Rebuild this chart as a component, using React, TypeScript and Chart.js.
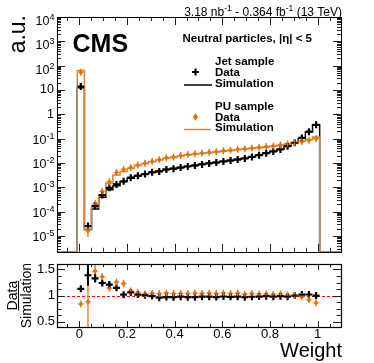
import React, { useEffect, useRef } from 'react';
import { Chart, registerables } from 'chart.js';
Chart.register(...registerables);

// ---- data ----
const binCenters = [
  0.0065, 0.0364, 0.0663, 0.0962, 0.1261, 0.156, 0.1859, 0.2158, 0.2457, 0.2756,
  0.3055, 0.3354, 0.3653, 0.3952, 0.4251, 0.455, 0.4849, 0.5148, 0.5447, 0.5746,
  0.6045, 0.6344, 0.6643, 0.6942, 0.7241, 0.754, 0.7839, 0.8138, 0.8437, 0.8736,
  0.9035, 0.9334, 0.9633, 0.9932,
];
const binHalfWidth = 0.01495;

const jetSim = [
  12.3, 1.85e-5, 1.3e-4, 3.9e-4, 7.9e-4, 1.15e-3, 1.74e-3, 2.34e-3, 2.95e-3, 3.47e-3,
  4.17e-3, 4.68e-3, 5.5e-3, 6.0e-3, 6.6e-3, 7.4e-3, 8.1e-3, 8.9e-3, 9.8e-3, 1.07e-2,
  1.17e-2, 1.29e-2, 1.41e-2, 1.58e-2, 1.82e-2, 2.14e-2, 2.57e-2, 3.02e-2, 3.63e-2, 5.0e-2,
  6.8e-2, 0.105, 0.19, 0.37,
];
const jetData = [
  13.9, 2.57e-5, 1.73e-4, 4.84e-4, 9.56e-4, 1.32e-3, 1.77e-3, 2.48e-3, 3.01e-3, 3.5e-3,
  4.13e-3, 4.49e-3, 5.34e-3, 5.82e-3, 6.47e-3, 7.18e-3, 7.86e-3, 8.72e-3, 9.6e-3, 1.04e-2,
  1.15e-2, 1.26e-2, 1.38e-2, 1.53e-2, 1.78e-2, 2.1e-2, 2.54e-2, 2.96e-2, 3.59e-2, 4.9e-2,
  6.8e-2, 0.107, 0.194, 0.37,
];
const puSim = [
  64, 1.86e-5, 1.5e-4, 5.0e-4, 1.48e-3, 3.24e-3, 4.47e-3, 6.0e-3, 7.8e-3, 9.5e-3,
  1.12e-2, 1.32e-2, 1.55e-2, 1.7e-2, 1.95e-2, 2.14e-2, 2.29e-2, 2.45e-2, 2.63e-2, 2.82e-2,
  3.02e-2, 3.24e-2, 3.47e-2, 3.72e-2, 3.98e-2, 4.27e-2, 4.57e-2, 4.9e-2, 5.37e-2, 6.03e-2,
  6.76e-2, 7.76e-2, 9.33e-2, 0.117,
];
const puData = [
  53.8, 1.64e-5, 2.2e-4, 6.8e-4, 1.69e-3, 4.08e-3, 5.5e-3, 6.54e-3, 8.27e-3, 9.79e-3,
  1.165e-2, 1.37e-2, 1.63e-2, 1.77e-2, 2.03e-2, 2.23e-2, 2.4e-2, 2.55e-2, 2.76e-2, 2.93e-2,
  3.17e-2, 3.37e-2, 3.64e-2, 3.83e-2, 4.14e-2, 4.4e-2, 4.71e-2, 5.0e-2, 5.53e-2, 6.09e-2,
  6.76e-2, 7.6e-2, 8.58e-2, 0.101,
];
// relative uncertainties of the data points (upper panel)
const jetDataRelErr = [
  0.02, 0.15, 0.08, 0.04, 0.03, 0.03, 0.02, 0.02, 0.02, 0.02,
  0.02, 0.02, 0.02, 0.02, 0.02, 0.02, 0.02, 0.02, 0.02, 0.02,
  0.02, 0.02, 0.02, 0.02, 0.02, 0.02, 0.02, 0.02, 0.02, 0.02,
  0.02, 0.02, 0.02, 0.02,
];
const puDataRelErr = [
  0.05, 0.45, 0.25, 0.15, 0.1, 0.08, 0.06, 0.06, 0.06, 0.06,
  0.06, 0.06, 0.06, 0.06, 0.06, 0.06, 0.06, 0.06, 0.06, 0.06,
  0.06, 0.06, 0.06, 0.06, 0.06, 0.06, 0.06, 0.06, 0.06, 0.06,
  0.06, 0.06, 0.06, 0.06,
];
// absolute uncertainties of the Data/Simulation ratio
const jetRatioErr = [
  0.02, 0.2, 0.08, 0.05, 0.04, 0.03, 0.02, 0.02, 0.02, 0.015,
  0.015, 0.015, 0.015, 0.015, 0.015, 0.015, 0.015, 0.015, 0.015, 0.015,
  0.015, 0.015, 0.015, 0.015, 0.015, 0.015, 0.015, 0.015, 0.015, 0.015,
  0.015, 0.015, 0.015, 0.015,
];
const puRatioErr = [
  0.03, 0.72, 0.12, 0.07, 0.05, 0.04, 0.03, 0.03, 0.02, 0.02,
  0.02, 0.02, 0.02, 0.02, 0.02, 0.02, 0.02, 0.02, 0.02, 0.02,
  0.02, 0.02, 0.02, 0.02, 0.02, 0.02, 0.02, 0.02, 0.02, 0.02,
  0.02, 0.02, 0.03, 0.03,
];

const xMajorTicks = [0, 0.2, 0.4, 0.6, 0.8, 1];
const xTickLabels = ['0', '0.2', '0.4', '0.6', '0.8', '1'];
const ratioTicks = [0.5, 1, 1.5];
const ratioTickLabels = ['0.5', '1', '1.5'];
const logDecades = [-5, -4, -3, -2, -1, 0, 1, 2, 3, 4];

// ---- style ----
const X_MIN = -0.0935;
const X_MAX = 1.0977;
const Y_MIN = Math.pow(10, -5.65);
const Y_MAX = 1e4;
const R_MIN = 0.4;
const R_MAX = 1.6;
const FONT = '"Liberation Sans", Arial, Helvetica, sans-serif';
const ORANGE_LINE = '#d4843a';
const ORANGE_MARK = '#e3740b';
const ORANGE_LIGHT = 'rgba(227,116,11,0.4)';

function stepPoints(vals: number[]) {
  const pts: { x: number; y: number }[] = [{ x: X_MIN, y: Y_MIN }];
  vals.forEach((v, i) => {
    const lo = binCenters[i] - binHalfWidth;
    const hi = binCenters[i] + binHalfWidth;
    if (i === 0) pts.push({ x: lo, y: Y_MIN });
    pts.push({ x: lo, y: v }, { x: hi, y: v });
  });
  const last = binCenters[binCenters.length - 1] + binHalfWidth;
  pts.push({ x: last, y: Y_MIN }, { x: X_MAX, y: Y_MIN });
  return pts;
}

function px(v: number) {
  return Math.round(v) + 0.5;
}

function drawXTicks(ctx: CanvasRenderingContext2D, chart: any, majLen: number, minLen: number) {
  const xs = chart.scales.x;
  const a = chart.chartArea;
  ctx.beginPath();
  for (let k = -1; k <= 21; k++) {
    const v = k * 0.05;
    const x = px(xs.getPixelForValue(v));
    if (x < a.left || x > a.right) continue;
    const len = k % 4 === 0 ? majLen : minLen;
    ctx.moveTo(x, a.bottom);
    ctx.lineTo(x, a.bottom - len);
    ctx.moveTo(x, a.top);
    ctx.lineTo(x, a.top + len);
  }
  ctx.stroke();
}

function drawYTick(ctx: CanvasRenderingContext2D, a: any, yPix: number, len: number) {
  const y = px(yPix);
  ctx.moveTo(a.left, y);
  ctx.lineTo(a.left + len, y);
  ctx.moveTo(a.right, y);
  ctx.lineTo(a.right - len, y);
}

const upperDecor = {
  id: 'upperDecor',
  afterDatasetsDraw(chart: any) {
    const ctx = chart.ctx as CanvasRenderingContext2D;
    const xs = chart.scales.x;
    const ys = chart.scales.y;
    const a = chart.chartArea;
    ctx.save();
    ctx.beginPath();
    ctx.rect(a.left, a.top, a.right - a.left, a.bottom - a.top);
    ctx.clip();
    puData.forEach((v, i) => {
      const cx = xs.getPixelForValue(binCenters[i]);
      const x1 = xs.getPixelForValue(binCenters[i] - binHalfWidth);
      const x2 = xs.getPixelForValue(binCenters[i] + binHalfWidth);
      const cy = ys.getPixelForValue(v);
      ctx.strokeStyle = ORANGE_LIGHT;
      ctx.lineWidth = 1;
      ctx.beginPath();
      ctx.moveTo(x1, cy);
      ctx.lineTo(x2, cy);
      ctx.stroke();
      let yt = ys.getPixelForValue(v * (1 + puDataRelErr[i]));
      let yb = ys.getPixelForValue(v * (1 - puDataRelErr[i]));
      yt = Math.min(yt, cy - 3.5);
      yb = Math.max(yb, cy + 3.5);
      ctx.strokeStyle = ORANGE_MARK;
      ctx.lineWidth = 1.3;
      ctx.beginPath();
      ctx.moveTo(cx, yt);
      ctx.lineTo(cx, yb);
      ctx.stroke();
    });
    jetData.forEach((v, i) => {
      const cx = xs.getPixelForValue(binCenters[i]);
      const yt = ys.getPixelForValue(v * (1 + jetDataRelErr[i]));
      const yb = ys.getPixelForValue(v * (1 - jetDataRelErr[i]));
      ctx.strokeStyle = '#000';
      ctx.lineWidth = 2;
      ctx.beginPath();
      ctx.moveTo(cx, yt);
      ctx.lineTo(cx, yb);
      ctx.stroke();
    });
    ctx.restore();
  },
  afterDraw(chart: any) {
    const ctx = chart.ctx as CanvasRenderingContext2D;
    const ys = chart.scales.y;
    const a = chart.chartArea;
    ctx.save();
    ctx.strokeStyle = '#222';
    ctx.lineWidth = 1;
    drawXTicks(ctx, chart, 8, 4);
    ctx.beginPath();
    for (let e = -6; e <= 4; e++) {
      for (let k = 1; k <= 9; k++) {
        const v = k * Math.pow(10, e);
        if (v < Y_MIN || v > Y_MAX * 1.0001) continue;
        drawYTick(ctx, a, ys.getPixelForValue(v), k === 1 ? 8 : 4);
      }
    }
    ctx.stroke();
    ctx.strokeStyle = '#000';
    ctx.lineWidth = 1;
    ctx.strokeRect(px(a.left), px(a.top), Math.round(a.right - a.left), Math.round(a.bottom - a.top));

    ctx.fillStyle = '#000';
    const rightEdge = 54.5;
    logDecades.forEach((e) => {
      const y = ys.getPixelForValue(Math.pow(10, e));
      if (e === 0 || e === 1) {
        ctx.font = `12.5px ${FONT}`;
        ctx.textAlign = 'right';
        ctx.textBaseline = 'middle';
        ctx.fillText(e === 0 ? '1' : '10', rightEdge - 0.5, y);
        return;
      }
      const exp = String(e);
      ctx.font = `9px ${FONT}`;
      const ew = ctx.measureText(exp).width;
      const off = e > 0 ? 4.5 : 1.5;
      const baseMid = y + off;
      ctx.font = `12.5px ${FONT}`;
      ctx.textAlign = 'right';
      ctx.textBaseline = 'middle';
      ctx.fillText('10', rightEdge - ew, baseMid);
      ctx.font = `9px ${FONT}`;
      ctx.textAlign = 'left';
      ctx.textBaseline = 'alphabetic';
      ctx.fillText(exp, rightEdge - ew, baseMid - 4.5 + 3);
    });

    ctx.save();
    ctx.translate(25, 15);
    ctx.rotate(-Math.PI / 2);
    ctx.font = `23px ${FONT}`;
    ctx.textAlign = 'right';
    ctx.textBaseline = 'alphabetic';
    ctx.fillText('a.u.', 0, 0);
    ctx.restore();

    ctx.font = `bold 25px ${FONT}`;
    ctx.textAlign = 'left';
    ctx.textBaseline = 'alphabetic';
    ctx.fillText('CMS', 72.5, 52);

    const parts: [string, boolean][] = [
      ['3.18 nb', false], ['-1', true], [' - 0.364 fb', false], ['-1', true], [' (13 TeV)', false],
    ];
    let total = 0;
    parts.forEach(([t, sup]) => {
      ctx.font = sup ? `8.5px ${FONT}` : `12px ${FONT}`;
      total += ctx.measureText(t).width;
    });
    let x = 342 - total;
    parts.forEach(([t, sup]) => {
      ctx.font = sup ? `8.5px ${FONT}` : `12px ${FONT}`;
      ctx.fillText(t, x, sup ? 11 : 16);
      x += ctx.measureText(t).width;
    });

    ctx.font = `bold 11.5px ${FONT}`;
    ctx.fillText('Neutral particles, |\u03B7| < 5', 182.5, 42);
    ctx.fillText('Jet sample', 215, 65);
    ctx.fillText('Data', 215, 76);
    ctx.fillText('Simulation', 215, 86.5);
    ctx.fillText('PU sample', 215, 109.5);
    ctx.fillText('Data', 215, 120.5);
    ctx.fillText('Simulation', 215, 131);

    ctx.strokeStyle = '#000';
    ctx.lineWidth = 2.2;
    ctx.beginPath();
    ctx.moveTo(192, 72);
    ctx.lineTo(199, 72);
    ctx.moveTo(195.5, 68.5);
    ctx.lineTo(195.5, 75.5);
    ctx.stroke();
    ctx.lineWidth = 1.5;
    ctx.beginPath();
    ctx.moveTo(184, 85);
    ctx.lineTo(212, 85);
    ctx.stroke();
    ctx.strokeStyle = ORANGE_LINE;
    ctx.beginPath();
    ctx.moveTo(184, 129.5);
    ctx.lineTo(211, 129.5);
    ctx.stroke();
    ctx.fillStyle = ORANGE_MARK;
    ctx.beginPath();
    ctx.moveTo(195.5, 113);
    ctx.lineTo(198, 117);
    ctx.lineTo(195.5, 121);
    ctx.lineTo(193, 117);
    ctx.closePath();
    ctx.fill();
    ctx.restore();
  },
};

const lowerDecor = {
  id: 'lowerDecor',
  beforeDatasetsDraw(chart: any) {
    const ctx = chart.ctx as CanvasRenderingContext2D;
    const ys = chart.scales.y;
    const a = chart.chartArea;
    ctx.save();
    ctx.strokeStyle = '#ff0000';
    ctx.lineWidth = 1;
    ctx.setLineDash([3, 2]);
    const y = px(ys.getPixelForValue(1));
    ctx.beginPath();
    ctx.moveTo(a.left, y);
    ctx.lineTo(a.right, y);
    ctx.stroke();
    ctx.restore();
  },
  afterDatasetsDraw(chart: any) {
    const ctx = chart.ctx as CanvasRenderingContext2D;
    const xs = chart.scales.x;
    const ys = chart.scales.y;
    const a = chart.chartArea;
    ctx.save();
    ctx.beginPath();
    ctx.rect(a.left, a.top, a.right - a.left, a.bottom - a.top);
    ctx.clip();
    puData.forEach((v, i) => {
      const r = v / puSim[i];
      const cx = xs.getPixelForValue(binCenters[i]);
      const x1 = xs.getPixelForValue(binCenters[i] - binHalfWidth);
      const x2 = xs.getPixelForValue(binCenters[i] + binHalfWidth);
      const cy = ys.getPixelForValue(r);
      ctx.strokeStyle = ORANGE_LIGHT;
      ctx.lineWidth = 1;
      ctx.beginPath();
      ctx.moveTo(x1, cy);
      ctx.lineTo(x2, cy);
      ctx.stroke();
      let yt = ys.getPixelForValue(r + puRatioErr[i]);
      let yb = ys.getPixelForValue(r - puRatioErr[i]);
      yt = Math.min(yt, cy - 3.5);
      yb = Math.max(yb, cy + 3.5);
      ctx.strokeStyle = ORANGE_MARK;
      ctx.lineWidth = 1.3;
      ctx.beginPath();
      ctx.moveTo(cx, yt);
      ctx.lineTo(cx, yb);
      ctx.stroke();
    });
    jetData.forEach((v, i) => {
      const r = v / jetSim[i];
      const cx = xs.getPixelForValue(binCenters[i]);
      const yt = ys.getPixelForValue(r + jetRatioErr[i]);
      const yb = ys.getPixelForValue(r - jetRatioErr[i]);
      ctx.strokeStyle = '#000';
      ctx.lineWidth = 2;
      ctx.beginPath();
      ctx.moveTo(cx, yt);
      ctx.lineTo(cx, yb);
      ctx.stroke();
    });
    ctx.restore();
  },
  afterDraw(chart: any) {
    const ctx = chart.ctx as CanvasRenderingContext2D;
    const xs = chart.scales.x;
    const ys = chart.scales.y;
    const a = chart.chartArea;
    ctx.save();
    ctx.strokeStyle = '#222';
    ctx.lineWidth = 1;
    drawXTicks(ctx, chart, 6, 3);
    ctx.beginPath();
    for (let k = 0; k <= 10; k++) {
      const v = 0.375 + k * 0.125;
      if (v < R_MIN || v > R_MAX) continue;
      const major = Math.abs(v * 2 - Math.round(v * 2)) < 1e-6;
      drawYTick(ctx, a, ys.getPixelForValue(v), major ? 8 : 4.5);
    }
    ctx.stroke();
    ctx.strokeStyle = '#000';
    ctx.lineWidth = 1.2;
    ctx.strokeRect(px(a.left), px(a.top), Math.round(a.right - a.left), Math.round(a.bottom - a.top));

    ctx.fillStyle = '#000';
    ctx.font = `13px ${FONT}`;
    ctx.textAlign = 'center';
    ctx.textBaseline = 'alphabetic';
    xMajorTicks.forEach((v, i) => {
      ctx.fillText(xTickLabels[i], xs.getPixelForValue(v), 80);
    });
    ctx.textAlign = 'right';
    ctx.textBaseline = 'middle';
    ratioTicks.forEach((v, i) => {
      ctx.fillText(ratioTickLabels[i], 55, ys.getPixelForValue(v));
    });
    ctx.font = `20px ${FONT}`;
    ctx.textAlign = 'right';
    ctx.textBaseline = 'alphabetic';
    ctx.fillText('Weight', 342, 99);
    const cy = ys.getPixelForValue(1);
    ctx.font = `14px ${FONT}`;
    const dw = ctx.measureText('Data').width;
    ctx.save();
    ctx.translate(16.5, cy);
    ctx.rotate(-Math.PI / 2);
    ctx.textAlign = 'center';
    ctx.fillText('Data', 0, 0);
    ctx.restore();
    ctx.save();
    ctx.translate(30.5, cy);
    ctx.rotate(-Math.PI / 2);
    ctx.textAlign = 'center';
    ctx.fillText('Simulation', 0, 0);
    ctx.restore();
    ctx.lineWidth = 1;
    ctx.beginPath();
    ctx.moveTo(18.5, cy - dw / 2);
    ctx.lineTo(18.5, cy + dw / 2);
    ctx.stroke();
    ctx.restore();
  },
};

export default function App() {
  const topRef = useRef<HTMLCanvasElement>(null);
  const botRef = useRef<HTMLCanvasElement>(null);

  useEffect(() => {
    const common = {
      responsive: false,
      animation: false as const,
      devicePixelRatio: 1,
      events: [] as any[],
    };
    const top = new Chart(topRef.current!, {
      type: 'line',
      data: {
        datasets: [
          {
            data: jetData.map((v, i) => ({ x: binCenters[i], y: v })),
            showLine: false,
            pointStyle: 'cross',
            pointRadius: 3.5,
            pointBorderWidth: 2.2,
            borderColor: '#000',
            backgroundColor: '#000',
            order: 0,
          },
          {
            data: puData.map((v, i) => ({ x: binCenters[i], y: v })),
            showLine: false,
            pointStyle: 'rectRot',
            pointRadius: 2.6,
            pointBorderWidth: 0,
            borderColor: ORANGE_MARK,
            backgroundColor: ORANGE_MARK,
            order: 1,
          },
          {
            data: stepPoints(puSim),
            borderColor: ORANGE_LINE,
            borderWidth: 1.5,
            pointRadius: 0,
            tension: 0,
            clip: 3,
            order: 2,
          },
          {
            data: stepPoints(jetSim),
            borderColor: '#000',
            borderWidth: 1.5,
            pointRadius: 0,
            tension: 0,
            clip: 3,
            order: 3,
          },
        ] as any,
      },
      options: {
        ...common,
        layout: { padding: { left: 57, right: 33, top: 17, bottom: 4 } },
        plugins: { legend: { display: false }, tooltip: { enabled: false } },
        scales: {
          x: { type: 'linear', min: X_MIN, max: X_MAX, display: false },
          y: { type: 'logarithmic', min: Y_MIN, max: Y_MAX, display: false },
        },
      } as any,
      plugins: [upperDecor],
    });

    const bottom = new Chart(botRef.current!, {
      type: 'line',
      data: {
        datasets: [
          {
            data: jetData.map((v, i) => ({ x: binCenters[i], y: v / jetSim[i] })),
            showLine: false,
            pointStyle: 'cross',
            pointRadius: 3.5,
            pointBorderWidth: 2.2,
            borderColor: '#000',
            backgroundColor: '#000',
            order: 0,
          },
          {
            data: puData.map((v, i) => ({ x: binCenters[i], y: v / puSim[i] })),
            showLine: false,
            pointStyle: 'rectRot',
            pointRadius: 2.6,
            pointBorderWidth: 0,
            borderColor: ORANGE_MARK,
            backgroundColor: ORANGE_MARK,
            order: 1,
          },
        ] as any,
      },
      options: {
        ...common,
        layout: { padding: { left: 57, right: 33, top: 4, bottom: 36 } },
        plugins: { legend: { display: false }, tooltip: { enabled: false } },
        scales: {
          x: { type: 'linear', min: X_MIN, max: X_MAX, display: false },
          y: { type: 'linear', min: R_MIN, max: R_MAX, display: false },
        },
      } as any,
      plugins: [lowerDecor],
    });

    return () => {
      top.destroy();
      bottom.destroy();
    };
  }, []);

  return (
    <div style={{ position: 'absolute', left: 0, top: 0, width: 374, height: 363, background: '#fff' }}>
      <canvas
        ref={topRef}
        width={374}
        height={258}
        style={{ position: 'absolute', left: 0, top: 0, width: 374, height: 258 }}
      />
      <canvas
        ref={botRef}
        width={374}
        height={105}
        style={{ position: 'absolute', left: 0, top: 258, width: 374, height: 105 }}
      />
    </div>
  );
}
